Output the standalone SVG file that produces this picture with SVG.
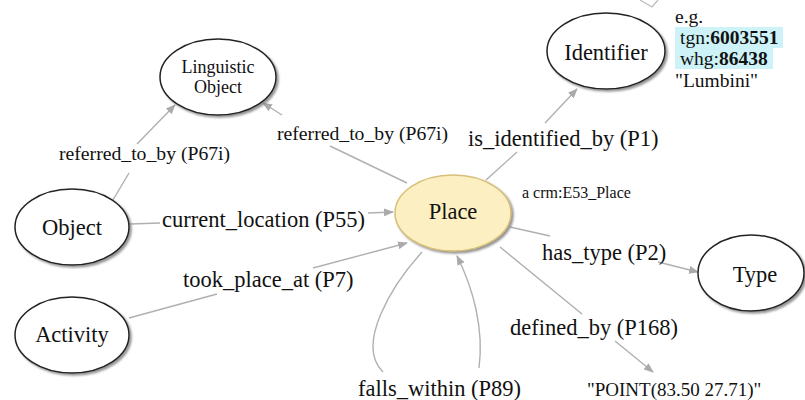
<svg xmlns="http://www.w3.org/2000/svg" width="805" height="400" viewBox="0 0 805 400">
<defs>
<filter id="sh" x="-20%" y="-20%" width="150%" height="150%">
<feDropShadow dx="2" dy="2" stdDeviation="1.2" flood-color="#777" flood-opacity="0.8"/>
</filter>
<marker id="ah" markerWidth="10" markerHeight="8" refX="9" refY="4" orient="auto" markerUnits="userSpaceOnUse">
<path d="M0,0 L10,4 L0,8 z" fill="#aaa"/>
</marker>
</defs>
<style>
.n ellipse{fill:#fff;stroke:#222;stroke-width:1.5;filter:url(#sh)}
.n text{font-family:"Liberation Serif","Times New Roman",serif;fill:#111;text-anchor:middle;font-size:22.5px}
.e line,.e path{stroke:#b0b0b0;stroke-width:1.4;fill:none}
.lbl{font-family:"Liberation Serif","Times New Roman",serif;fill:#111;font-size:22.5px}
.b{font-weight:bold}
</style>
<rect width="805" height="400" fill="#fff"/>
<polyline points="640,0 652,7 658,0" fill="none" stroke="#bbb" stroke-width="1.2"/>

<g class="e" id="connectors">
<line x1="113" y1="200" x2="129" y2="173"/>
<line x1="137" y1="144" x2="175" y2="105" marker-end="url(#ah)"/>
<line x1="407" y1="183" x2="330" y2="146"/>
<line x1="282" y1="115" x2="263" y2="103" marker-end="url(#ah)"/>
<line x1="486" y1="180" x2="517" y2="152"/>
<line x1="545" y1="123" x2="577" y2="89" marker-end="url(#ah)"/>
<line x1="130" y1="224" x2="160" y2="223"/>
<line x1="368" y1="213" x2="393" y2="212" marker-end="url(#ah)"/>
<line x1="129" y1="318" x2="217" y2="294"/>
<line x1="313" y1="268" x2="407" y2="243" marker-end="url(#ah)"/>
<line x1="510" y1="227" x2="550" y2="236"/>
<line x1="658" y1="262" x2="698" y2="272" marker-end="url(#ah)"/>
<line x1="500" y1="247" x2="582" y2="314"/>
<line x1="615" y1="341" x2="653" y2="372" marker-end="url(#ah)"/>
<path d="M422,252 C392,285 355,345 383,372"/>
<path d="M479,368 C484,330 474,290 457,256" marker-end="url(#ah)"/>
</g>

<g id="linguistic-object" class="n">
<ellipse cx="218" cy="77" rx="58" ry="38"/>
<text x="218" y="73" style="font-size:18px">Linguistic</text>
<text x="218" y="93" style="font-size:18px">Object</text>
</g>
<g id="object" class="n">
<ellipse cx="72" cy="227" rx="57" ry="38"/>
<text x="72" y="235">Object</text>
</g>
<g id="activity" class="n">
<ellipse cx="72" cy="335" rx="57" ry="38"/>
<text x="72" y="342">Activity</text>
</g>
<g id="place" class="n">
<ellipse cx="453" cy="213" rx="58" ry="38" style="fill:#fcefc2;stroke:#d8c07a"/>
<text x="453" y="219">Place</text>
</g>
<g id="identifier" class="n">
<ellipse cx="606" cy="51" rx="59" ry="38"/>
<text x="606" y="60">Identifier</text>
</g>
<g id="type" class="n">
<ellipse cx="751" cy="273" rx="53" ry="38"/>
<text x="755" y="282">Type</text>
</g>

<g id="labels">
<text class="lbl" x="59" y="160" style="font-size:19.7px">referred_to_by (P67i)</text>
<text class="lbl" x="277" y="140" style="font-size:19.7px">referred_to_by (P67i)</text>
<text class="lbl" x="468" y="146">is_identified_by (P1)</text>
<text class="lbl" x="162" y="227">current_location (P55)</text>
<text class="lbl" x="183" y="287">took_place_at (P7)</text>
<text class="lbl" x="542" y="260">has_type (P2)</text>
<text class="lbl" x="510" y="335">defined_by (P168)</text>
<text class="lbl" x="358" y="396">falls_within (P89)</text>
<text class="lbl" x="587" y="396" style="font-size:19px">"POINT(83.50 27.71)"</text>
<text class="lbl" x="522" y="198" style="font-size:16px">a crm:E53_Place</text>
</g>

<g id="identifier-examples">
<rect x="675" y="27" width="108" height="21" fill="#cdf3f9"/>
<rect x="675" y="48" width="98" height="21" fill="#cdf3f9"/>
<text class="lbl" x="675" y="23" style="font-size:19.5px">e.g.</text>
<text class="lbl" x="680" y="44" style="font-size:19.5px">tgn:<tspan class="b">6003551</tspan></text>
<text class="lbl" x="680" y="65" style="font-size:19.5px">whg:<tspan class="b">86438</tspan></text>
<text class="lbl" x="675" y="87" style="font-size:19.5px">"Lumbini"</text>
</g>
</svg>
